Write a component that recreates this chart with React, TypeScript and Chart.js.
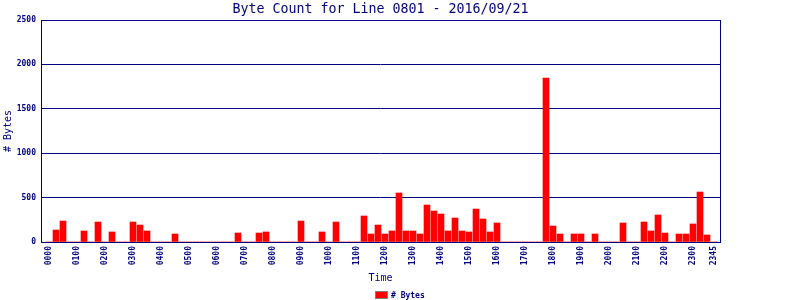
import React, { useEffect, useRef } from 'react';
import { Chart, registerables } from 'chart.js';

Chart.register(...registerables);

const NAVY = '#000080';
const MONO = "'DejaVu Sans Mono', 'Liberation Mono', monospace";

const chartTitle = 'Byte Count for Line 0801 - 2016/09/21';
const xTitle = 'Time';
const yTitle = '# Bytes';
const seriesName = '# Bytes';

const times: string[] = [
  '0000', '0015', '0030', '0045', '0100', '0115', '0130', '0145',
  '0200', '0215', '0230', '0245', '0300', '0315', '0330', '0345',
  '0400', '0415', '0430', '0445', '0500', '0515', '0530', '0545',
  '0600', '0615', '0630', '0645', '0700', '0715', '0730', '0745',
  '0800', '0815', '0830', '0845', '0900', '0915', '0930', '0945',
  '1000', '1015', '1030', '1045', '1100', '1115', '1130', '1145',
  '1200', '1215', '1230', '1245', '1300', '1315', '1330', '1345',
  '1400', '1415', '1430', '1445', '1500', '1515', '1530', '1545',
  '1600', '1615', '1630', '1645', '1700', '1715', '1730', '1745',
  '1800', '1815', '1830', '1845', '1900', '1915', '1930', '1945',
  '2000', '2015', '2030', '2045', '2100', '2115', '2130', '2145',
  '2200', '2215', '2230', '2245', '2300', '2315', '2330', '2345',
];

const byteCounts: number[] = [
  0, 135, 236, 0, 0, 124, 0, 225, 0, 113, 0, 0, 225, 191, 124, 0, 0, 0, 90, 0,
  0, 0, 0, 0, 0, 0, 0, 101, 0, 0, 101, 113, 0, 0, 0, 0, 236, 0, 0, 113,
  0, 225, 0, 0, 0, 293, 90, 191, 90, 124, 552, 124, 124, 90, 416, 349, 315, 124, 270, 124,
  113, 371, 259, 113, 214, 0, 0, 0, 0, 0, 0, 1847, 180, 90, 0, 90, 90, 0, 90, 0,
  0, 0, 214, 0, 0, 225, 124, 304, 101, 0, 90, 90, 203, 563, 79, 0,
];

const xTickLabels: string[] = [
  '0000', '0100', '0200', '0300', '0400', '0500', '0600', '0700', '0800',
  '0900', '1000', '1100', '1200', '1300', '1400', '1500', '1600', '1700',
  '1800', '1900', '2000', '2100', '2200', '2300', '2345',
];

const yTicks: number[] = [0, 500, 1000, 1500, 2000, 2500];

const framePlugin = {
  id: 'frameTitleLegend',
  afterDraw(chart: any) {
    const { ctx, chartArea } = chart;
    const { left, right, top, bottom } = chartArea;
    ctx.save();
    ctx.strokeStyle = NAVY;
    ctx.lineWidth = 1;
    ctx.strokeRect(Math.round(left) + 0.5, Math.round(top) + 0.5, Math.round(right - left), Math.round(bottom - top));
    ctx.fillStyle = NAVY;
    ctx.font = `13.3px ${MONO}`;
    ctx.textAlign = 'center';
    ctx.textBaseline = 'alphabetic';
    ctx.fillText(chartTitle, (left + right) / 2, 13);
    ctx.font = `bold 8px ${MONO}`;
    const tw = ctx.measureText(seriesName).width;
    const boxW = 13;
    const gap = 3;
    const total = boxW + gap + tw;
    const x0 = Math.round(chart.width / 2 - total / 2);
    ctx.fillStyle = '#FF0000';
    ctx.fillRect(x0, 291, boxW, 8);
    ctx.strokeStyle = '#808080';
    ctx.strokeRect(x0 + 0.5, 291.5, boxW - 1, 7);
    ctx.fillStyle = NAVY;
    ctx.textAlign = 'left';
    ctx.fillText(seriesName, x0 + boxW + gap, 298);
    ctx.restore();
  },
};

export default function App() {
  const ref = useRef<HTMLCanvasElement | null>(null);

  useEffect(() => {
    if (!ref.current) return;
    document.body.style.margin = '0';
    const chart = new Chart(ref.current, {
      type: 'bar',
      data: {
        datasets: [
          {
            label: seriesName,
            data: byteCounts.map((v, i) => ({ x: i, y: v })),
            backgroundColor: '#FF0000',
            borderWidth: 0,
            barThickness: 6,
          },
        ],
      },
      options: {
        animation: false,
        responsive: false,
        devicePixelRatio: 1,
        layout: { padding: { left: 0, right: 80, top: 20, bottom: 0 } },
        plugins: {
          legend: { display: false },
          tooltip: { enabled: false },
          title: { display: false },
        },
        scales: {
          x: {
            type: 'linear',
            bounds: 'data',
            offset: false,
            min: -8 / 7,
            max: 671 / 7,
            grid: { display: false, drawTicks: false, offset: false },
            border: { display: false },
            afterBuildTicks: (scale: any) => {
              scale.ticks = xTickLabels.map((l) => ({ value: times.indexOf(l) }));
            },
            afterFit: (scale: any) => {
              scale.height = 58;
            },
            ticks: {
              autoSkip: false,
              minRotation: 90,
              maxRotation: 90,
              padding: 4,
              color: NAVY,
              font: { family: MONO, size: 8, weight: 'bold' },
              callback: (v: any) => times[v as number] ?? '',
            },
            title: {
              display: true,
              text: xTitle,
              color: NAVY,
              font: { family: MONO, size: 10 },
              padding: { top: 0, bottom: 16 },
            },
          },
          y: {
            min: 0,
            max: 2500,
            afterBuildTicks: (scale: any) => {
              scale.ticks = yTicks.map((v) => ({ value: v }));
            },
            afterFit: (scale: any) => {
              scale.width = 41;
            },
            grid: { color: NAVY, lineWidth: 1, drawTicks: false },
            border: { display: false },
            ticks: {
              padding: 5,
              color: NAVY,
              font: { family: MONO, size: 8, weight: 'bold' },
              callback: (v: any) => String(v),
            },
            title: {
              display: true,
              text: yTitle,
              color: NAVY,
              font: { family: MONO, size: 10 },
              padding: { top: 2, bottom: 0 },
            },
          },
        },
      } as any,
      plugins: [framePlugin],
    });
    return () => chart.destroy();
  }, []);

  return (
    <div style={{ position: 'absolute', left: 0, top: 0, width: 800, height: 300, background: '#fff' }}>
      <canvas ref={ref} width={800} height={300} style={{ display: 'block' }} />
    </div>
  );
}
